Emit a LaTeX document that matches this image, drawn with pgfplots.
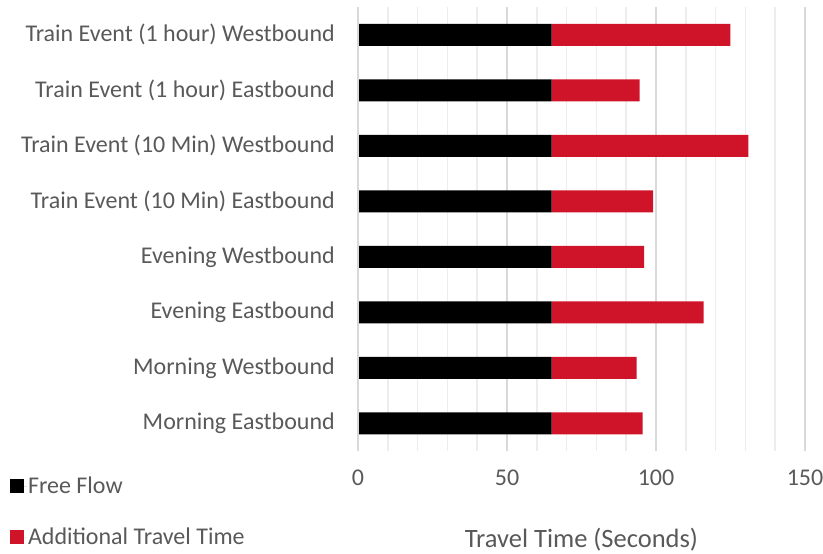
\documentclass[border=0pt]{standalone}
\usepackage{pgfplots}
\pgfplotsset{compat=1.18}
\usepackage{fontspec}
\setmainfont{Carlito}
\definecolor{txt}{HTML}{595959}
\definecolor{majg}{HTML}{D9D9D9}
\definecolor{ming}{HTML}{EDEDED}
\definecolor{myred}{RGB}{207,20,41}
\begin{document}
\begin{tikzpicture}
\begin{axis}[
  name=ax,
  at={(0,0)}, anchor=south west,
  scale only axis,
  width=447bp, height=444bp,
  xbar stacked,
  bar width=22bp,
  xmin=0, xmax=150,
  ymin=-0.5, ymax=7.5,
  ytick={0,...,7},
  yticklabels={Morning Eastbound, Morning Westbound, Evening Eastbound, Evening Westbound,
    Train Event (10 Min) Eastbound, Train Event (10 Min) Westbound,
    Train Event (1 hour) Eastbound, Train Event (1 hour) Westbound},
  xtick={0,50,100,150},
  minor x tick num=4,
  xmajorgrids, xminorgrids,
  major grid style={majg, line width=1.5bp},
  minor grid style={ming, line width=1.5bp},
  axis line style={draw=none},
  axis x line*=bottom, axis y line*=left,
  major tick length=0pt, minor tick length=0pt,
  tick style={draw=none},
  /pgf/number format/assume math mode=true,
  ticklabel style={font=\fontsize{24bp}{28bp}\selectfont, text=txt},
  yticklabel style={inner sep=0pt, xshift=-23bp},
  xticklabel style={inner sep=0pt, yshift=-19bp},
  xlabel={Travel Time (Seconds)},
  xlabel style={at={(axis description cs:0.5,-0.2)}, anchor=center, font=\fontsize{26.5bp}{30bp}\selectfont, text=txt},
  legend style={at={(axis description cs:-0.78,-0.055)}, anchor=north west, draw=none, fill=none,
    inner sep=0pt, row sep=30bp, font=\fontsize{24bp}{28bp}\selectfont, text=txt,
    nodes={inner sep=1.5bp}},
  legend cell align=left,
  legend image code/.code={\fill[#1, draw=none] (0bp,-7bp) rectangle (14bp,7bp); \path (0bp,0bp) -- (17bp,0bp);},
]
\addplot[fill=black, draw=none] coordinates {
 (65,0) (65,1) (65,2) (65,3) (65,4) (65,5) (65,6) (65,7)};
\addplot[fill=myred, draw=none] coordinates {
 (30.5,0) (28.5,1) (51,2) (31,3) (34,4) (66,5) (29.5,6) (60,7)};
\legend{Free Flow, Additional Travel Time}
\end{axis}
\draw[majg, line width=1.5bp] (ax.south west) -- (ax.north west);
\pgfresetboundingbox
\useasboundingbox (ax.south west) ++(-358bp,-103bp) rectangle ++(823bp,554bp);
\end{tikzpicture}
\end{document}
